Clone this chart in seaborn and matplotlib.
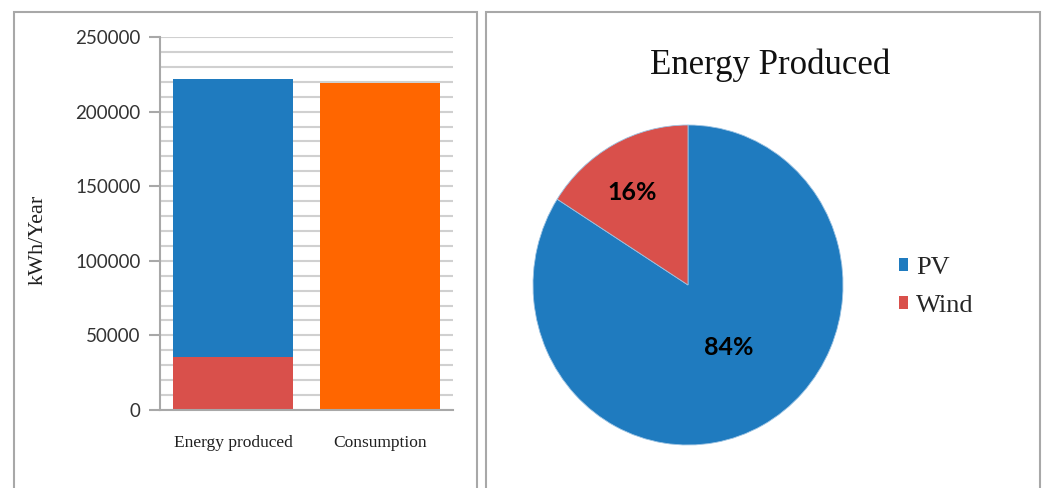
import matplotlib
matplotlib.use("Agg")
import matplotlib.pyplot as plt
from matplotlib.patches import Rectangle, Patch
from matplotlib.ticker import MultipleLocator
import seaborn as sns

# Annual energy balance (kWh/Year)
categories = ["Energy produced", "Consumption"]
pv_energy = 186500
wind_energy = 35500
consumption = 219500

pie_labels = ["PV", "Wind"]
pie_values = [pv_energy, wind_energy]

blue = "#1f7bbf"
red = "#d9504b"
orange = "#ff6600"
serif = ["Liberation Serif", "DejaVu Serif"]
sans = ["Lato", "DejaVu Sans"]

sns.set_theme(style="white")
plt.rcParams["font.family"] = sans

W, H = 1046, 488
fig = plt.figure(figsize=(W / 100, H / 100), dpi=100)

# Panel frames
for x0, x1 in [(14, 477), (486, 1040)]:
    fig.add_artist(Rectangle((x0 / W, -0.1), (x1 - x0) / W, 1.1 - 12 / H,
                             transform=fig.transFigure, fill=False,
                             edgecolor="#a8a8a8", linewidth=1.5))

# ---- Stacked bar panel ----
ax = fig.add_axes([160 / W, (H - 410) / H, (453 - 160) / W, (410 - 37) / H])
totals = [pv_energy + wind_energy, consumption]
sns.barplot(x=categories, y=totals, hue=categories, palette=[blue, orange],
            order=categories, width=0.82, legend=False, ax=ax, saturation=1,
            linewidth=0)
sns.barplot(x=categories, y=[wind_energy, 0], order=categories, color=red,
            width=0.82, ax=ax, saturation=1, linewidth=0)
ax.set_xlim(-0.5, 1.5)
ax.set_ylim(0, 250000)
ax.yaxis.set_major_locator(MultipleLocator(50000))
ax.yaxis.set_minor_locator(MultipleLocator(10000))
ax.grid(which="both", axis="y", color="#d0d0d0", linewidth=1.5)
ax.set_axisbelow(True)
for s in ["top", "right"]:
    ax.spines[s].set_visible(False)
for s in ["left", "bottom"]:
    ax.spines[s].set_color("#a8a8a8")
    ax.spines[s].set_linewidth(1.5)
ax.tick_params(axis="y", which="major", left=True, length=8, width=1.5,
               color="#a8a8a8", labelsize=13.5, labelcolor="#333333", pad=6)
ax.tick_params(axis="x", bottom=False, pad=12)
for lbl in ax.get_xticklabels():
    lbl.set_fontfamily(serif)
    lbl.set_fontsize(12.5)
    lbl.set_color("#202020")
ax.set_ylabel("kWh/Year", fontfamily=serif, fontsize=16, color="#202020")
ax.yaxis.set_label_coords(-0.383, 0.456)
ax.set_xlabel("")

# ---- Pie panel ----
pax = fig.add_axes([533 / W, 43 / H, 310 / W, 320 / H])
wedges, texts, autotexts = pax.pie(
    pie_values, colors=[blue, red], startangle=90, counterclock=False,
    autopct="%1.0f%%", wedgeprops=dict(edgecolor="#9cc3e3", linewidth=0.6),
    textprops=dict(fontsize=18, fontweight="bold", color="black",
                   family=sans))
autotexts[0].set_position((0.265, -0.39))
autotexts[1].set_position((-0.36, 0.58))
pax.set_xlim(-1, 1)
pax.set_ylim(-1, 1)
pax.set_aspect("auto")

fig.text(770 / W, 1 - 65 / H, "Energy Produced", ha="center", va="center",
         fontfamily=serif, fontsize=25, color="#111111")

handles = [Patch(facecolor=c, edgecolor="none") for c in [blue, red]]
fig.legend(handles, pie_labels, loc="center left",
           bbox_to_anchor=(875 / W, 1 - 287 / H), frameon=False,
           prop=dict(family=serif, size=19), handlelength=0.35,
           handleheight=0.35, handletextpad=0.3, labelspacing=0.6)

fig.savefig("out.png", dpi=100)
